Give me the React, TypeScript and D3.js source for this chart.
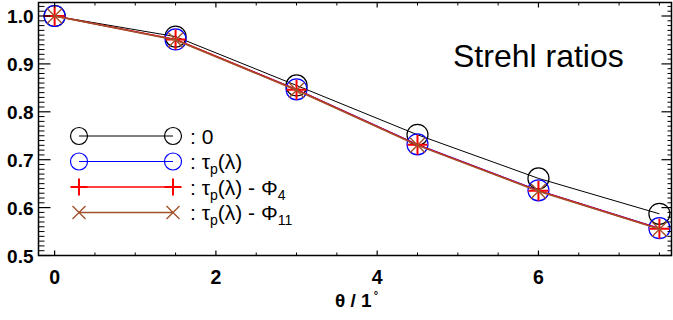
import React from "react";
import * as d3 from "d3";

const thetas = [0, 1.5, 3, 4.5, 6, 7.5];
const sNone = [1.0, 0.957, 0.855, 0.752, 0.661, 0.587];
const sTau = [1.0, 0.951, 0.847, 0.732, 0.636, 0.557];
const sTauPhi4 = [1.0, 0.951, 0.846, 0.731, 0.635, 0.556];
const sTauPhi11 = [1.0, 0.950, 0.845, 0.730, 0.634, 0.555];
const xMajor = [0, 2, 4, 6];
const yMajor = [0.5, 0.6, 0.7, 0.8, 0.9, 1.0];

const W = 673, H = 320;
const L = 38.5, R = 671.5, T = 2.5, B = 255.5;
const FONT = "Liberation Sans, Arial, sans-serif";

export default function App() {
  const x = d3.scaleLinear().domain([-0.2, 7.65]).range([L, R]);
  const y = d3.scaleLinear().domain([0.5, 1.0]).range([B, 16]);
  const line = d3.line<number>().x((_, i) => x(thetas[i])).y((d) => y(d));

  const xMinor = d3.range(0, 7.6, 0.5).filter((v) => Math.abs(v / 2 - Math.round(v / 2)) > 1e-6);
  const yMinor = d3.range(50, 103).map((v) => v / 100).filter((v) => Math.abs(v * 10 - Math.round(v * 10)) > 1e-6 && y(v) >= T);

  const circle = (cx: number, cy: number, r: number, c: string, k: string) => (
    <circle key={k} cx={cx} cy={cy} r={r} fill="none" stroke={c} strokeWidth={1.2} />
  );
  const plus = (cx: number, cy: number, s: number, c: string, k: string) => (
    <path key={k} d={`M${cx - s},${cy}H${cx + s}M${cx},${cy - s}V${cy + s}`} stroke={c} strokeWidth={2} fill="none" />
  );
  const cross = (cx: number, cy: number, s: number, c: string, k: string) => (
    <path key={k} d={`M${cx - s},${cy - s}L${cx + s},${cy + s}M${cx - s},${cy + s}L${cx + s},${cy - s}`} stroke={c} strokeWidth={1.4} fill="none" />
  );

  const series = [
    { data: sNone, color: "#000000", lw: 1, m: "o" },
    { data: sTau, color: "#0000ff", lw: 1, m: "o" },
    { data: sTauPhi4, color: "#ff0000", lw: 1.5, m: "+" },
    { data: sTauPhi11, color: "#a0522d", lw: 1.5, m: "x" },
  ];
  const mark = (m: string, cx: number, cy: number, c: string, k: string, big: boolean) =>
    m === "o" ? circle(cx, cy, big ? 10.5 : 8.5, c, k) : m === "+" ? plus(cx, cy, big ? 10 : 8.5, c, k) : cross(cx, cy, big ? 7.5 : 6.5, c, k);

  const legendRows = [136, 161.5, 187, 212.5];
  const lx0 = 79, lx1 = 173, tx = 190;
  const LF = 21, SF = 14;

  return (
    <svg width={W} height={H} style={{ position: "absolute", left: 0, top: 0, background: "#fff" }} fontFamily={FONT}>
      <rect x={0} y={0} width={W} height={H} fill="#fff" />
      {series.map((s, si) => (
        <g key={si}>
          <path d={line(s.data) || ""} fill="none" stroke={s.color} strokeWidth={s.lw} />
          {s.data.map((v, i) => mark(s.m, x(thetas[i]), y(v), s.color, `m${si}-${i}`, true))}
        </g>
      ))}
      <rect x={L} y={T} width={R - L} height={B - T} fill="none" stroke="#000" strokeWidth={1.5} />
      {xMajor.map((v) => (
        <g key={"xm" + v}>
          <line x1={x(v)} x2={x(v)} y1={B} y2={B - 5} stroke="#000" strokeWidth={1.2} />
          <line x1={x(v)} x2={x(v)} y1={T} y2={T + 5} stroke="#000" strokeWidth={1.2} />
          <text x={x(v)} y={283.5} textAnchor="middle" fontSize={19.5} fontWeight="bold">{v}</text>
        </g>
      ))}
      {xMinor.map((v) => (
        <g key={"xn" + v}>
          <line x1={x(v)} x2={x(v)} y1={B} y2={B - 3} stroke="#000" strokeWidth={1} />
          <line x1={x(v)} x2={x(v)} y1={T} y2={T + 3} stroke="#000" strokeWidth={1} />
        </g>
      ))}
      {yMajor.map((v) => (
        <g key={"ym" + v}>
          <line x1={L} x2={L + 12} y1={y(v)} y2={y(v)} stroke="#000" strokeWidth={1.2} />
          <line x1={R} x2={R - 10} y1={y(v)} y2={y(v)} stroke="#000" strokeWidth={1.2} />
          <text x={33.5} y={y(v) + 7} textAnchor="end" fontSize={19} fontWeight="bold">{v.toFixed(1)}</text>
        </g>
      ))}
      {yMinor.map((v) => (
        <g key={"yn" + v}>
          <line x1={L} x2={L + 6} y1={y(v)} y2={y(v)} stroke="#000" strokeWidth={1} />
          <line x1={R} x2={R - 4} y1={y(v)} y2={y(v)} stroke="#000" strokeWidth={1} />
        </g>
      ))}
      <text x={335} y={306.5} fontSize={19} fontWeight="bold">θ / 1<tspan fontSize={11} dx={2} dy={-8}>°</tspan></text>
      <text x={453} y={67} fontSize={32}>Strehl ratios</text>
      {series.map((s, si) => (
        <g key={"lg" + si}>
          <line x1={lx0} x2={lx1} y1={legendRows[si]} y2={legendRows[si]} stroke={s.color} strokeWidth={s.lw} />
          {mark(s.m, lx0, legendRows[si], s.color, "la" + si, false)}
          {mark(s.m, lx1, legendRows[si], s.color, "lb" + si, false)}
        </g>
      ))}
      <text x={tx} y={legendRows[0] + 7.5} fontSize={LF}>: 0</text>
      <text x={tx} y={legendRows[1] + 7.5} fontSize={LF}>: τ<tspan fontSize={SF} dy={5}>p</tspan><tspan dy={-5}>(λ)</tspan></text>
      <text x={tx} y={legendRows[2] + 7.5} fontSize={LF}>: τ<tspan fontSize={SF} dy={5}>p</tspan><tspan dy={-5}>(λ) - Φ</tspan><tspan fontSize={SF} dy={5}>4</tspan></text>
      <text x={tx} y={legendRows[3] + 7.5} fontSize={LF}>: τ<tspan fontSize={SF} dy={5}>p</tspan><tspan dy={-5}>(λ) - Φ</tspan><tspan fontSize={SF} dy={5}>11</tspan></text>
    </svg>
  );
}
